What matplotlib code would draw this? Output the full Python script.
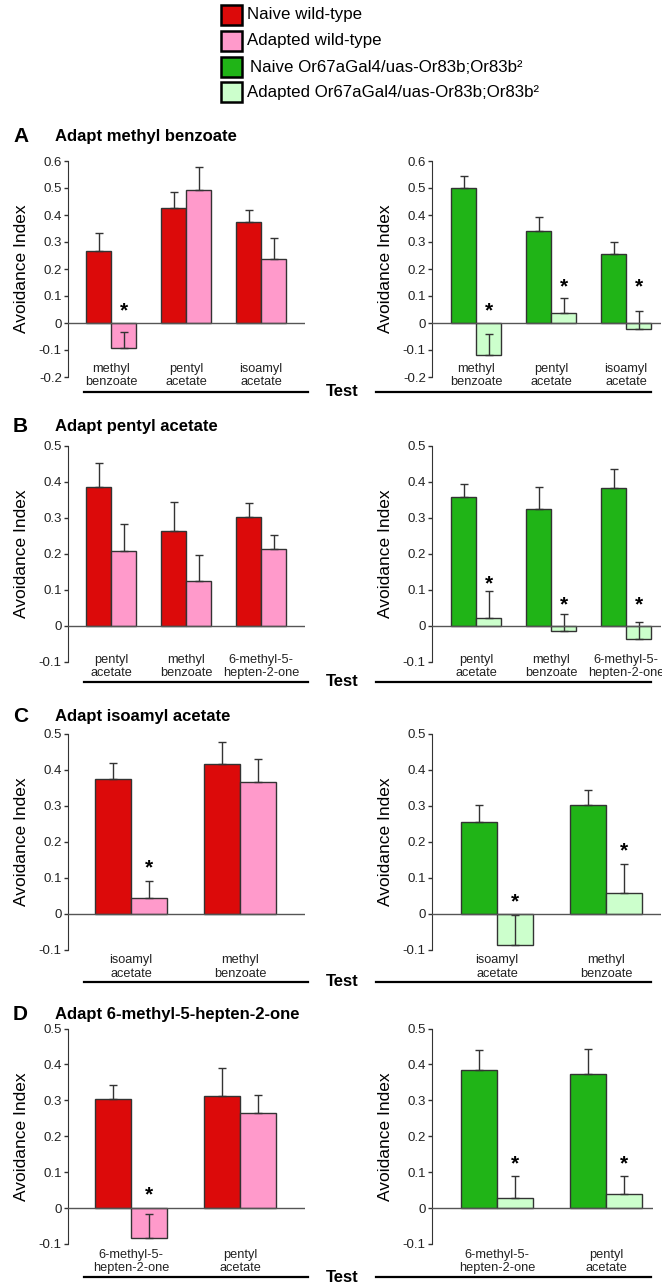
import numpy as np
import matplotlib as mpl
mpl.use('Agg')
import matplotlib.pyplot as plt
from matplotlib.patches import Rectangle
from matplotlib.lines import Line2D
from matplotlib.ticker import FuncFormatter
from matplotlib.transforms import blended_transform_factory

plt.rcParams['font.family'] = ['Liberation Sans', 'DejaVu Sans']
plt.rcParams['axes.unicode_minus'] = False

# ---- data ----
legend_labels = ['Naive wild-type', 'Adapted wild-type',
                 'Naive Or67aGal4/uas-Or83b;Or83b\u00b2',
                 'Adapted Or67aGal4/uas-Or83b;Or83b\u00b2']
colors = ['#dc0a0a', '#ff9acb', '#20b417', '#ccffcc']

tests_A = ['methyl\nbenzoate', 'pentyl\nacetate', 'isoamyl\nacetate']
wt_naive_A = [0.267, 0.425, 0.375]
wt_naive_A_err = [0.068, 0.062, 0.044]
wt_adapt_A = [-0.093, 0.493, 0.237]
wt_adapt_A_err = [0.060, 0.086, 0.079]
wt_star_A = [0.045, None, None]
mut_naive_A = [0.499, 0.341, 0.254]
mut_naive_A_err = [0.047, 0.053, 0.047]
mut_adapt_A = [-0.119, 0.038, -0.022]
mut_adapt_A_err = [0.079, 0.055, 0.067]
mut_star_A = [0.045, 0.134, 0.134]

tests_B = ['pentyl\nacetate', 'methyl\nbenzoate', '6-methyl-5-\nhepten-2-one']
wt_naive_B = [0.385, 0.265, 0.302]
wt_naive_B_err = [0.069, 0.080, 0.040]
wt_adapt_B = [0.207, 0.126, 0.214]
wt_adapt_B_err = [0.075, 0.071, 0.039]
wt_star_B = [None, None, None]
mut_naive_B = [0.357, 0.324, 0.383]
mut_naive_B_err = [0.037, 0.061, 0.054]
mut_adapt_B = [0.023, -0.014, -0.036]
mut_adapt_B_err = [0.074, 0.047, 0.046]
mut_star_B = [0.117, 0.058, 0.058]

tests_C = ['isoamyl\nacetate', 'methyl\nbenzoate']
wt_naive_C = [0.375, 0.417]
wt_naive_C_err = [0.043, 0.062]
wt_adapt_C = [0.044, 0.365]
wt_adapt_C_err = [0.046, 0.065]
wt_star_C = [0.128, None]
mut_naive_C = [0.254, 0.303]
mut_naive_C_err = [0.049, 0.042]
mut_adapt_C = [-0.088, 0.056]
mut_adapt_C_err = [0.085, 0.082]
mut_star_C = [0.032, 0.175]

tests_D = ['6-methyl-5-\nhepten-2-one', 'pentyl\nacetate']
wt_naive_D = [0.303, 0.312]
wt_naive_D_err = [0.041, 0.077]
wt_adapt_D = [-0.084, 0.264]
wt_adapt_D_err = [0.067, 0.051]
wt_star_D = [0.036, None]
mut_naive_D = [0.385, 0.374]
mut_naive_D_err = [0.055, 0.070]
mut_adapt_D = [0.027, 0.040]
mut_adapt_D_err = [0.063, 0.050]
mut_star_D = [0.122, 0.122]

titles = ['Adapt methyl benzoate', 'Adapt pentyl acetate',
          'Adapt isoamyl acetate', 'Adapt 6-methyl-5-hepten-2-one']
letters = ['A', 'B', 'C', 'D']

W, H = 662, 1284
fig = plt.figure(figsize=(W/100, H/100), dpi=100)

def fx(p):
    return p / W

def fy(p):
    return 1 - p / H

def tickfmt(v, pos):
    v = round(v, 1)
    if abs(v) < 1e-9:
        return '0'
    return '%g' % v

EDGE = '#333333'

def draw_panel(px_left, px_right, py_top, py_bot, ylim, xlim, tests,
               naive, naive_err, adapt, adapt_err, stars, c_naive, c_adapt,
               py_lab, py_line, line_x):
    ax = fig.add_axes([fx(px_left), fy(py_bot), fx(px_right - px_left), (py_bot - py_top) / H])
    n = len(tests)
    x = np.arange(n)
    w = 1/3.
    ax.bar(x - w/2, naive, w, color=c_naive, edgecolor=EDGE, linewidth=1, zorder=2)
    ax.bar(x + w/2, adapt, w, color=c_adapt, edgecolor=EDGE, linewidth=1, zorder=2)
    ax.errorbar(x - w/2, naive, yerr=[np.zeros(n), naive_err], fmt='none', ecolor=EDGE,
                elinewidth=1, capsize=3, capthick=1, zorder=3)
    ax.errorbar(x + w/2, adapt, yerr=[np.zeros(n), adapt_err], fmt='none', ecolor=EDGE,
                elinewidth=1, capsize=3, capthick=1, zorder=3)
    ax.axhline(0, color='#555555', linewidth=1, zorder=4)
    for i, s in enumerate(stars):
        if s is not None:
            ax.text(x[i] + w/2, s, '*', ha='center', va='center', fontsize=15,
                    fontweight='bold', color='black')
    ax.set_xlim(*xlim)
    ax.set_ylim(*ylim)
    ax.set_yticks(np.round(np.arange(ylim[0], ylim[1] + 0.001, 0.1), 1))
    ax.yaxis.set_major_formatter(FuncFormatter(tickfmt))
    ax.set_xticks([])
    for sp in ['top', 'right', 'bottom']:
        ax.spines[sp].set_visible(False)
    ax.spines['left'].set_color(EDGE)
    ax.tick_params(axis='y', direction='out', length=3, width=1, color=EDGE,
                   labelsize=9.5, pad=1.5, labelcolor='#222222')
    ax.patch.set_visible(False)
    ax.set_ylabel('Avoidance Index', fontsize=12.5, va='center')
    ax.yaxis.set_label_coords(-46 / (px_right - px_left), 0.5)
    tr = blended_transform_factory(ax.transData, fig.transFigure)
    for i, t in enumerate(tests):
        ax.text(x[i], fy(py_lab), t, transform=tr, ha='center', va='center',
                fontsize=9.2, linespacing=1.2, color='#222222')
    fig.add_artist(Line2D([fx(line_x[0]), fx(line_x[1])], [fy(py_line), fy(py_line)],
                          color='black', linewidth=1.6, transform=fig.transFigure))
    return ax

panels = [
    (tests_A, wt_naive_A, wt_naive_A_err, wt_adapt_A, wt_adapt_A_err, wt_star_A,
     mut_naive_A, mut_naive_A_err, mut_adapt_A, mut_adapt_A_err, mut_star_A),
    (tests_B, wt_naive_B, wt_naive_B_err, wt_adapt_B, wt_adapt_B_err, wt_star_B,
     mut_naive_B, mut_naive_B_err, mut_adapt_B, mut_adapt_B_err, mut_star_B),
    (tests_C, wt_naive_C, wt_naive_C_err, wt_adapt_C, wt_adapt_C_err, wt_star_C,
     mut_naive_C, mut_naive_C_err, mut_adapt_C, mut_adapt_C_err, mut_star_C),
    (tests_D, wt_naive_D, wt_naive_D_err, wt_adapt_D, wt_adapt_D_err, wt_star_D,
     mut_naive_D, mut_naive_D_err, mut_adapt_D, mut_adapt_D_err, mut_star_D),
]

# layout per row: axis top/bottom px, ylim, label centre, underline, title y
rows = [
    (161, 377, (-0.2, 0.6), 375.5, 392, 137),
    (446, 662, (-0.1, 0.5), 666.5, 682, 427),
    (734, 949.5, (-0.1, 0.5), 967, 982, 717),
    (1028.5, 1244, (-0.1, 0.5), 1261.5, 1277, 1014),
]

for k, (p, r) in enumerate(zip(panels, rows)):
    tests = p[0]
    n = len(tests)
    top, bot, ylim, ylab, yline, ytitle = r
    if n == 3:
        sp = 75.
        cl, cr = 111, 476
    else:
        sp = 109.
        cl, cr = 131, 497
    rr = 653 if k == 3 else 661
    draw_panel(68, 305, top, bot, ylim, ((68 - cl) / sp, (305 - cl) / sp), tests,
               p[1], p[2], p[3], p[4], p[5], colors[0], colors[1], ylab, yline, (84, 308))
    draw_panel(432, rr, top, bot, ylim, ((432 - cr) / sp, (rr - cr) / sp), tests,
               p[6], p[7], p[8], p[9], p[10], colors[2], colors[3], ylab, yline, (376, 651))
    fig.text(fx(342), fy(yline), 'Test', ha='center', va='center', fontsize=12,
             fontweight='bold')
    fig.text(fx(13), fy(ytitle), letters[k], ha='left', va='center', fontsize=15,
             fontweight='bold')
    fig.text(fx(55), fy(ytitle), titles[k], ha='left', va='center', fontsize=12,
             fontweight='bold')

# legend drawn by hand
leg_y = [15, 41, 67, 92]
leg_tx = [247, 247, 250, 247]
for i in range(4):
    fig.add_artist(Rectangle((fx(221), fy(leg_y[i] + 10)), fx(21), 20 / H,
                             facecolor=colors[i], edgecolor='black', linewidth=1.8,
                             transform=fig.transFigure))
    fig.text(fx(leg_tx[i]), fy(leg_y[i]), legend_labels[i], ha='left', va='center',
             fontsize=12.2)

fig.savefig('out.png', dpi=100)
